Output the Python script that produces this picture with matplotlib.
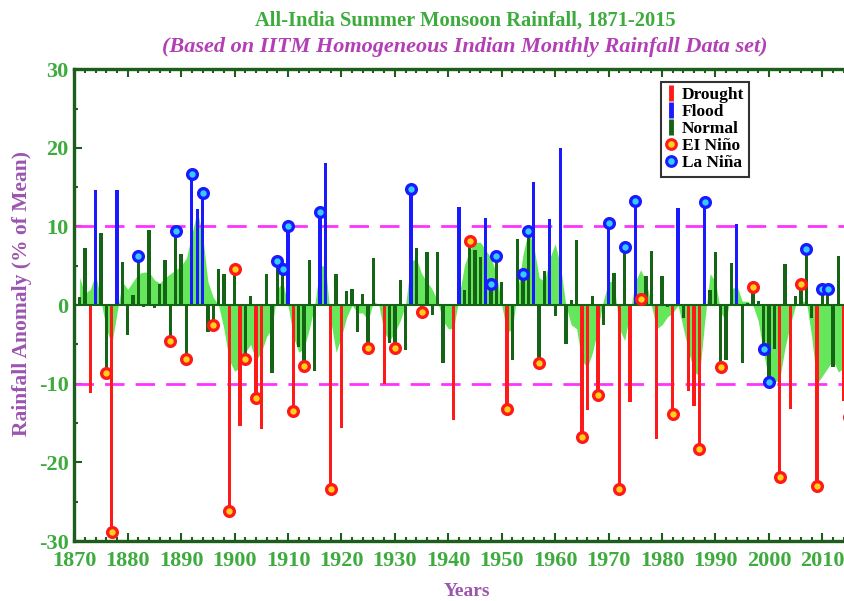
import matplotlib
matplotlib.use("Agg")
import matplotlib.pyplot as plt
from matplotlib.lines import Line2D
from matplotlib.ticker import MultipleLocator
import numpy as np

plt.rcParams['font.family'] = ['Liberation Serif', 'DejaVu Serif']
plt.rcParams['font.weight'] = 'bold'
plt.rcParams['axes.unicode_minus'] = False

# ---- data ----
years = np.arange(1871, 2016)

anomaly = [
    1.0, 7.3, -11.2, 14.6, 9.2, -8.6, -28.9, 14.7, 5.5, -3.8,      # 1871-1880
    1.3, 6.2, -0.2, 9.6, -0.4, 2.7, 5.8, -4.6, 9.4, 6.5,           # 1881-1890
    -6.8, 16.7, 12.2, 14.3, -3.4, -2.5, 4.6, 4.0, -26.2, 4.6,      # 1891-1900
    -15.4, -6.8, 1.1, -11.8, -15.8, 4.0, -8.6, 5.6, 4.6, 10.0,     # 1901-1910
    -13.5, -5.3, -7.8, 5.7, -8.4, 11.8, 18.1, -23.4, 3.9, -15.6,   # 1911-1920
    1.8, 2.1, -3.4, 1.4, -5.5, 6.0, 0.2, -10.0, -4.8, -5.4,        # 1921-1930
    3.2, -5.7, 14.8, 7.3, -0.9, 6.7, -1.2, 6.7, -7.4, 0.2,         # 1931-1940
    -14.6, 12.5, 1.9, 8.2, 7.0, 6.1, 11.1, 2.7, 6.3, 2.9,          # 1941-1950
    -13.2, -7.0, 8.4, 4.0, 9.4, 15.6, -7.3, 4.4, 11.0, -1.4,       # 1951-1960
    20.0, -4.9, 0.7, 8.3, -16.8, -13.3, 1.1, -11.4, -2.5, 10.5,    # 1961-1970
    4.1, -23.4, 7.4, -12.3, 13.2, 0.8, 3.7, 6.9, -17.0, 3.7,       # 1971-1980
    -0.3, -13.8, 12.3, -1.7, -10.9, -12.8, -18.3, 13.1, 1.9, 6.8,  # 1981-1990
    -7.9, -7.0, 5.3, 10.3, -7.4, 0.3, 2.3, 0.5, -5.6, -9.8,        # 1991-2000
    -5.6, -21.8, 5.2, -13.2, 1.2, 2.7, 7.1, -1.7, -23.0, 2.1,      # 2001-2010
    2.1, -7.9, 6.3, -12.2, -14.2,                                  # 2011-2015
]

# light green smoothed band
smooth = [
    3.5, 1.5, 2.0, 4.0, 0.5, -3.0, -5.0, -1.0, 3.0, 2.0,
    3.0, 4.0, 4.2, 4.2, 3.2, 2.8, 3.5, 4.0, 4.5, 5.0,
    6.0, 9.0, 12.0, 9.0, 3.0, 1.0, 0.0, -3.0, -7.0, -8.4,
    -8.0, -6.0, -5.0, -7.0, -6.0, -4.0, -3.0, 2.0, 3.0, 0.0,
    -4.0, -6.0, -5.5, -3.0, 0.0, 5.0, 5.0, -2.0, -6.0, -4.0,
    -1.5, 0.0, -1.0, -1.0, -2.0, 0.5, 0.0, -3.5, -4.5, -3.5,
    -2.0, 0.0, 5.5, 6.0, 4.0, 3.0, 2.0, 0.5, -2.0, -3.0,
    -3.0, 1.0, 5.0, 7.0, 8.0, 8.0, 7.0, 6.0, 4.0, 0.0,
    -3.5, -3.0, 2.0, 6.5, 9.5, 7.5, 3.5, 3.0, 6.0, 7.8,
    5.0, 0.0, -2.5, -3.0, -7.0, -8.0, -6.0, -3.0, 0.5, 3.0,
    3.0, -3.0, -4.5, -1.0, 3.0, 4.5, 3.0, 0.0, -3.0, -2.5,
    -1.5, -1.0, 0.0, -3.0, -6.0, -8.5, -9.0, -2.0, 4.0, 3.0,
    -1.0, -2.0, 2.0, 2.5, 0.5, 0.5, 0.0, -2.0, -6.0, -9.5,
    -9.8, -9.5, -5.5, -2.5, 0.0, 0.5, 0.5, -4.0, -10.0, -9.0,
    -8.0, -7.0, -8.5, -8.0, -8.0,
]

drought_years = [1873, 1877, 1899, 1901, 1904, 1905, 1911, 1918, 1920, 1928,
                 1941, 1951, 1965, 1966, 1968, 1972, 1974, 1979, 1982, 1985,
                 1986, 1987, 2002, 2004, 2009, 2014, 2015]
flood_years = [1874, 1878, 1892, 1893, 1894, 1910, 1916, 1917, 1933, 1942,
               1947, 1956, 1959, 1961, 1970, 1975, 1983, 1988, 1994]
el_nino_years = [1876, 1877, 1888, 1891, 1896, 1899, 1900, 1902, 1904, 1911,
                 1913, 1918, 1925, 1930, 1935, 1944, 1951, 1957, 1965, 1968,
                 1972, 1976, 1982, 1987, 1991, 1997, 2002, 2006, 2009, 2015]
la_nina_years = [1882, 1889, 1892, 1894, 1908, 1909, 1910, 1916, 1933, 1948,
                 1949, 1954, 1955, 1970, 1973, 1975, 1988, 1999, 2000, 2007,
                 2010, 2011]

# ---- colours ----
c_red = '#ff1a1a'
c_blue = '#1a1aff'
c_dgreen = '#156315'
c_fill = '#66e65a'
c_axis = '#1d5e1d'
c_tick = '#3dab3d'
c_purple = '#9b55b0'
c_magenta = '#ff33ff'

anom = dict(zip(years, anomaly))
colors = []
for y in years:
    if y in drought_years:
        colors.append(c_red)
    elif y in flood_years:
        colors.append(c_blue)
    else:
        colors.append(c_dgreen)

fig = plt.figure(figsize=(8.44, 6.01), dpi=100)
ax = fig.add_axes([0.088, 0.0998, 0.9243, 0.785])

ax.fill_between(years, smooth, 0, color=c_fill, lw=0, zorder=1)
ax.axhline(10, color=c_magenta, lw=2, dashes=(7, 4), zorder=2)
ax.axhline(-10, color=c_magenta, lw=2, dashes=(7, 4), zorder=2)
ax.bar(years, anomaly, width=0.62, color=colors, zorder=3)
ax.axhline(0, color=c_dgreen, lw=1.5, zorder=3)

ax.plot(el_nino_years, [anom[y] for y in el_nino_years], 'o', ms=7,
        mfc='#ffd21a', mec=c_red, mew=2.4, zorder=4)
ax.plot(la_nina_years, [anom[y] for y in la_nina_years], 'o', ms=7,
        mfc='#33ccff', mec=c_blue, mew=2.4, zorder=4)

ax.set_xlim(1870, 2016)
ax.set_ylim(-30, 30)
ax.xaxis.set_major_locator(MultipleLocator(10))
ax.xaxis.set_minor_locator(MultipleLocator(2))
ax.yaxis.set_major_locator(MultipleLocator(10))
ax.yaxis.set_minor_locator(MultipleLocator(5))
ax.tick_params(which='both', direction='in', top=True, right=False,
               color=c_axis, labelcolor=c_tick, width=1.5, labelsize=16)
ax.tick_params(which='major', length=6)
ax.tick_params(which='minor', length=3)
ax.tick_params(axis='x', pad=7)
ax.tick_params(axis='y', pad=4)
for lab in ax.get_xticklabels() + ax.get_yticklabels():
    lab.set_fontweight('bold')
for s in ax.spines.values():
    s.set_color(c_axis)
    s.set_linewidth(2.4)

fig.text(0.551, 0.966, 'All-India Summer Monsoon Rainfall, 1871-2015',
         ha='center', va='center', color=c_tick, fontsize=14.8, fontweight='bold')
fig.text(0.551, 0.922, '(Based on IITM Homogeneous Indian Monthly Rainfall Data set)',
         ha='center', va='center', color='#b23fb5', fontsize=16,
         fontweight='bold', style='italic')
fig.text(0.026, 0.512, 'Rainfall Anomaly (% of Mean)', rotation=90,
         ha='center', va='center', color=c_purple, fontsize=15.5, fontweight='bold')
fig.text(0.553, 0.015, 'Years', ha='center', va='center',
         color=c_purple, fontsize=14, fontweight='bold')

handles = [
    Line2D([], [], color=c_red, marker='|', ls='None', ms=11, mew=3.5),
    Line2D([], [], color=c_blue, marker='|', ls='None', ms=11, mew=3.5),
    Line2D([], [], color=c_dgreen, marker='|', ls='None', ms=11, mew=3.5),
    Line2D([], [], marker='o', ls='None', ms=7, mfc='#ffd21a', mec=c_red, mew=2.2),
    Line2D([], [], marker='o', ls='None', ms=7, mfc='#33ccff', mec=c_blue, mew=2.2),
]
leg = ax.legend(handles, ['Drought', 'Flood', 'Normal', 'EI Niño', 'La Niña'],
                loc='upper left', bbox_to_anchor=(0.752, 0.973),
                fancybox=False, framealpha=1, edgecolor='#333333',
                handlelength=0.6, handletextpad=0.3, labelspacing=0.05,
                borderpad=0.3, borderaxespad=0,
                prop={'family': 'Liberation Serif', 'weight': 'bold', 'size': 12.5})
leg.get_frame().set_linewidth(1.5)

fig.savefig('out.png', dpi=100)
